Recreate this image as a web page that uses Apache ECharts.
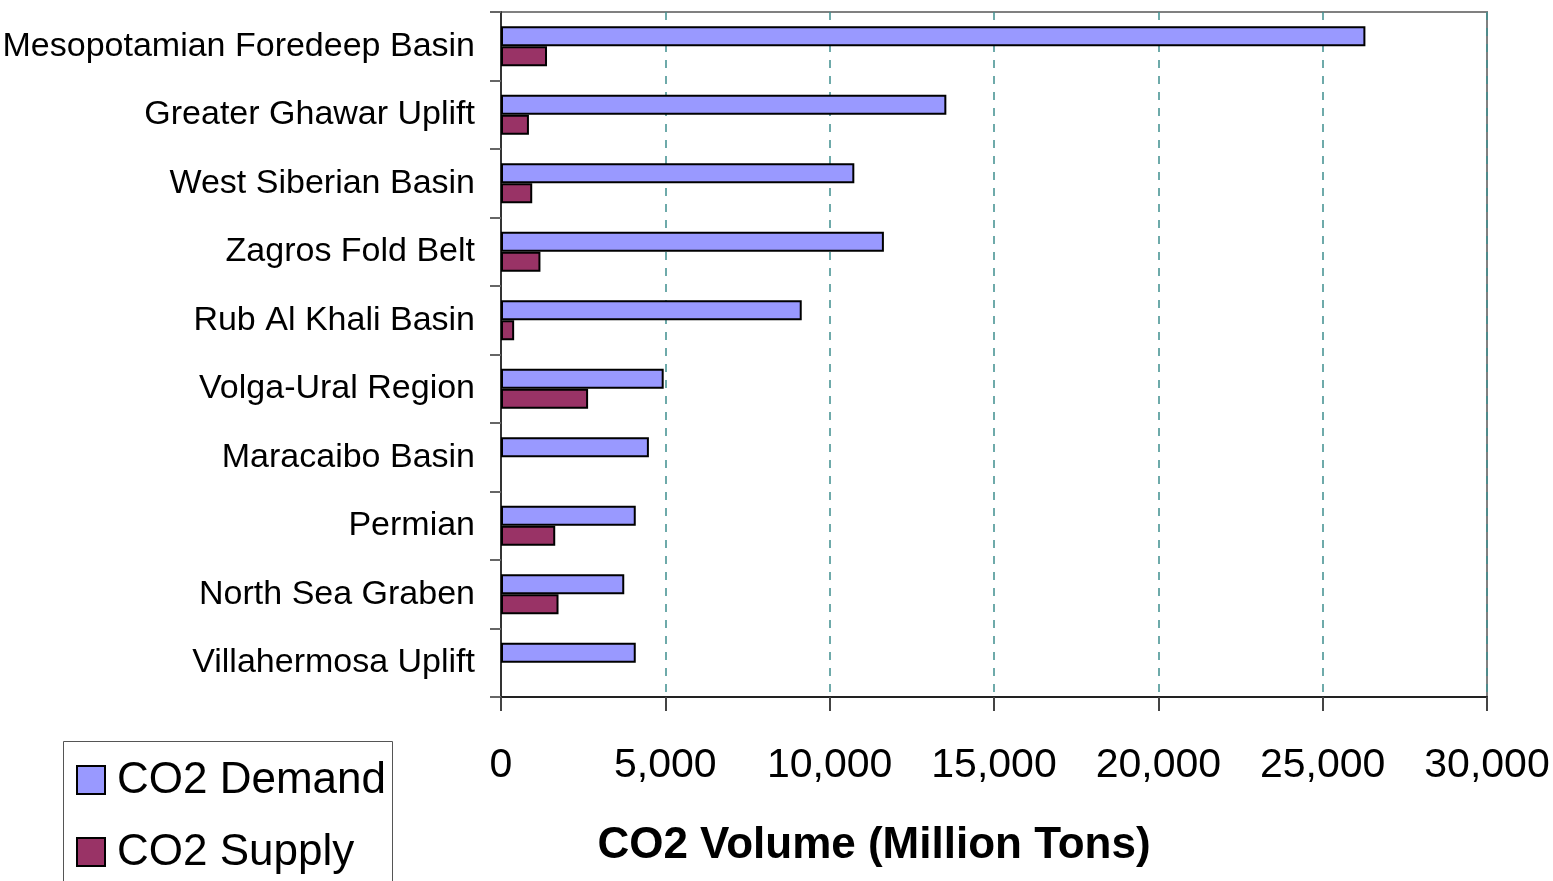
<!DOCTYPE html>
<html>
<head>
<meta charset="utf-8">
<title>CO2 Demand and Supply by Basin</title>
<script src="https://cdn.jsdelivr.net/npm/echarts@6/dist/echarts.min.js"></script>
<style>
  html, body { margin: 0; padding: 0; background: #fff; }
  #chart { width: 1553px; height: 881px; }
</style>
</head>
<body>
<div id="chart"></div>
<script>
// Basins, listed top to bottom
const basins = [
  'Mesopotamian Foredeep Basin',
  'Greater Ghawar Uplift',
  'West Siberian Basin',
  'Zagros Fold Belt',
  'Rub Al Khali Basin',
  'Volga-Ural Region',
  'Maracaibo Basin',
  'Permian',
  'North Sea Graben',
  'Villahermosa Uplift'
];

// CO2 volumes, million tons
const co2Demand = [26300, 13550, 10750, 11650, 9150, 4950, 4500, 4100, 3750, 4100];
const co2Supply = [1400, 850, 950, 1200, 400, 2650, null, 1650, 1750, null];

const seriesNames = ['CO2 Demand', 'CO2 Supply'];
const seriesColors = ['#9999FF', '#993366'];
const axisTitle = 'CO2 Volume (Million Tons)';
const xTicks = { min: 0, max: 30000, step: 5000 };

const FONT = '"Liberation Sans Narrow", "Arial Narrow", "Liberation Sans", Arial, sans-serif';

const chart = echarts.init(document.getElementById('chart'), null, { renderer: 'canvas' });

// Boxed legend in the lower-left corner; the frame runs off the bottom edge
const legendItems = [];
legendItems.push({
  type: 'rect',
  shape: { x: 63.5, y: 741.5, width: 329, height: 170 },
  style: { fill: '#fff', stroke: '#555', lineWidth: 1 },
  z: 10
});
seriesNames.forEach((name, i) => {
  const cy = 780 + i * 72;
  legendItems.push({
    type: 'rect',
    shape: { x: 77, y: cy - 14, width: 28, height: 28 },
    style: { fill: seriesColors[i], stroke: '#000', lineWidth: 2 },
    z: 11
  });
  legendItems.push({
    type: 'text',
    x: 117, y: cy + 1,
    style: {
      text: name,
      font: '44px ' + FONT,
      fill: '#000',
      verticalAlign: 'middle',
      align: 'left'
    },
    z: 11
  });
});

chart.setOption({
  animation: false,
  backgroundColor: '#ffffff',
  textStyle: { fontFamily: FONT },
  grid: {
    left: 501, right: 66, top: 12, bottom: 184,
    show: true, borderColor: '#808080', borderWidth: 2,
    containLabel: false,
    outerBoundsMode: 'none'
  },
  graphic: legendItems.concat([{
    type: 'text',
    x: 874, y: 846,
    style: {
      text: axisTitle,
      font: 'bold 44px ' + FONT,
      fill: '#000',
      align: 'center',
      verticalAlign: 'middle'
    }
  }]),
  xAxis: {
    type: 'value',
    min: xTicks.min, max: xTicks.max, interval: xTicks.step,
    axisLine: { show: true, lineStyle: { color: '#222', width: 2 } },
    axisTick: { show: true, length: 14, lineStyle: { color: '#444', width: 2 } },
    axisLabel: {
      margin: 48, fontSize: 41, color: '#000', fontFamily: FONT,
      formatter: v => v.toLocaleString('en-US')
    },
    splitLine: { show: true, lineStyle: { color: '#3f8f8f', type: [8, 8], width: 1.5 } }
  },
  yAxis: {
    type: 'category',
    data: basins,
    inverse: true,
    axisLine: { show: true, lineStyle: { color: '#333', width: 2 } },
    axisTick: { show: true, length: 11, interval: 0, lineStyle: { color: '#666', width: 2 } },
    axisLabel: { margin: 26, fontSize: 34, color: '#000', fontFamily: FONT, interval: 0 },
    splitLine: { show: false }
  },
  series: [
    {
      name: seriesNames[0], type: 'bar', data: co2Demand,
      barGap: '0%', barWidth: 20,
      itemStyle: { color: seriesColors[0], borderColor: '#000', borderWidth: 2 }
    },
    {
      name: seriesNames[1], type: 'bar', data: co2Supply,
      barGap: '0%', barWidth: 20,
      itemStyle: { color: seriesColors[1], borderColor: '#000', borderWidth: 2 }
    }
  ]
});
</script>
</body>
</html>
